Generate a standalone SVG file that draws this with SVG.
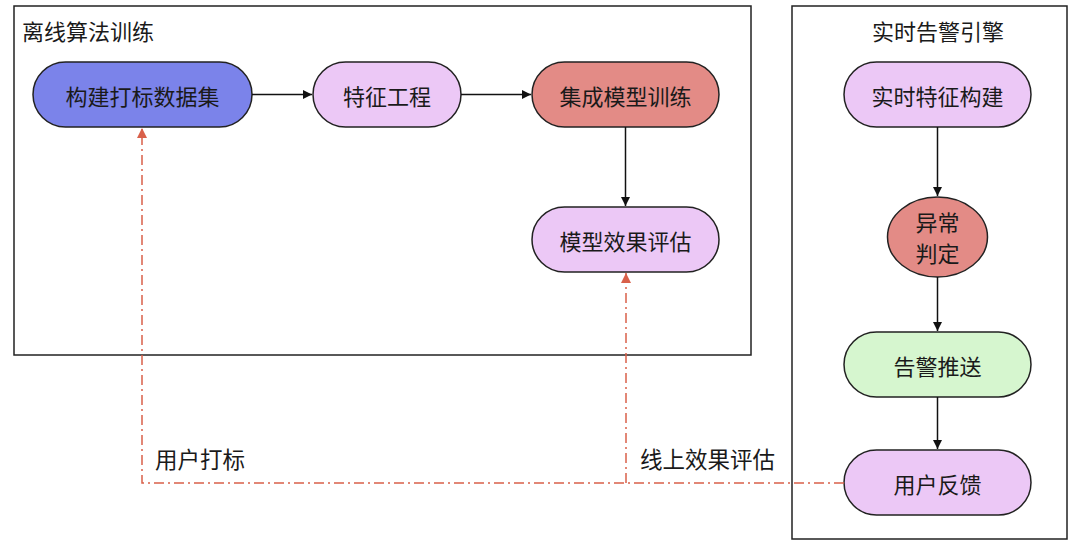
<svg xmlns="http://www.w3.org/2000/svg" width="1078" height="546" viewBox="0 0 1078 546">
<style>
text{font-family:"Noto Sans CJK SC","Liberation Sans",sans-serif;fill:#1a1a1a}
.frame{fill:none;stroke:#222;stroke-width:1.5}
.node{stroke:#222;stroke-width:1.5}
.lbl{font-size:22px;text-anchor:middle;dominant-baseline:central}
.ttl{font-size:22px}
.blue{fill:#7b83ea}
.lav{fill:#ecc8f6}
.sal{fill:#e38b86}
.grn{fill:#d6f6cf}
.flow{stroke:#111;stroke-width:1.5;fill:none}
.fb{stroke:#d9604a;stroke-width:1.5;fill:none;stroke-dasharray:10 4 2 4}
.elab{font-size:22.5px}
</style>
<defs>
<marker id="ah" viewBox="0 0 10 10" refX="10" refY="5" markerWidth="9" markerHeight="9" markerUnits="userSpaceOnUse" orient="auto"><path d="M0,0 L10,5 L0,10 z" fill="#111"/></marker>
<marker id="ahr" viewBox="0 0 10 10" refX="10" refY="5" markerWidth="10" markerHeight="10" markerUnits="userSpaceOnUse" orient="auto"><path d="M0,0 L10,5 L0,10 z" fill="#d9604a"/></marker>
</defs>
<rect width="1078" height="546" fill="#fff"/>
<g id="offline-frame">
<rect class="frame" x="14" y="6" width="737" height="349"/>
<text class="ttl" x="22" y="40">离线算法训练</text>
</g>
<g id="realtime-frame">
<rect class="frame" x="792" y="6" width="275" height="533"/>
<text class="ttl" x="938" y="40" text-anchor="middle">实时告警引擎</text>
</g>
<g id="n-build-dataset"><rect class="node blue" x="33" y="62" width="219" height="65" rx="32.5"/><text class="lbl" x="142.5" y="94.5">构建打标数据集</text></g>
<g id="n-feature-eng"><rect class="node lav" x="313" y="62" width="148" height="65" rx="32.5"/><text class="lbl" x="387" y="94.5">特征工程</text></g>
<g id="n-ensemble"><rect class="node sal" x="532" y="62" width="187" height="65" rx="32.5"/><text class="lbl" x="625.5" y="94.5">集成模型训练</text></g>
<g id="n-eval"><rect class="node lav" x="532" y="207" width="187" height="65" rx="32.5"/><text class="lbl" x="625.5" y="239.5">模型效果评估</text></g>
<g id="n-rt-feature"><rect class="node lav" x="844" y="62" width="187" height="65" rx="32.5"/><text class="lbl" x="937.5" y="94.5">实时特征构建</text></g>
<g id="n-anomaly"><ellipse class="node sal" cx="937.5" cy="237" rx="50" ry="40"/><text class="lbl" x="937.5" y="221">异常</text><text class="lbl" x="937.5" y="252">判定</text></g>
<g id="n-push"><rect class="node grn" x="844" y="332" width="187" height="65" rx="32.5"/><text class="lbl" x="937.5" y="364.5">告警推送</text></g>
<g id="n-feedback"><rect class="node lav" x="844" y="450" width="187" height="65" rx="32.5"/><text class="lbl" x="937.5" y="482.5">用户反馈</text></g>
<g id="connectors">
<line class="flow" x1="252" y1="94.5" x2="312" y2="94.5" marker-end="url(#ah)"/>
<line class="flow" x1="461" y1="94.5" x2="531" y2="94.5" marker-end="url(#ah)"/>
<line class="flow" x1="625.5" y1="127" x2="625.5" y2="206" marker-end="url(#ah)"/>
<line class="flow" x1="937.5" y1="127" x2="937.5" y2="196" marker-end="url(#ah)"/>
<line class="flow" x1="937.5" y1="277" x2="937.5" y2="331" marker-end="url(#ah)"/>
<line class="flow" x1="937.5" y1="397" x2="937.5" y2="449" marker-end="url(#ah)"/>
<path class="fb" d="M844,483 L142,483 L142,128" marker-end="url(#ahr)"/>
<path class="fb" d="M626,483 L626,273" marker-end="url(#ahr)"/>
<text class="elab" x="155" y="468">用户打标</text>
<text class="elab" x="640" y="468">线上效果评估</text>
</g>
</svg>
